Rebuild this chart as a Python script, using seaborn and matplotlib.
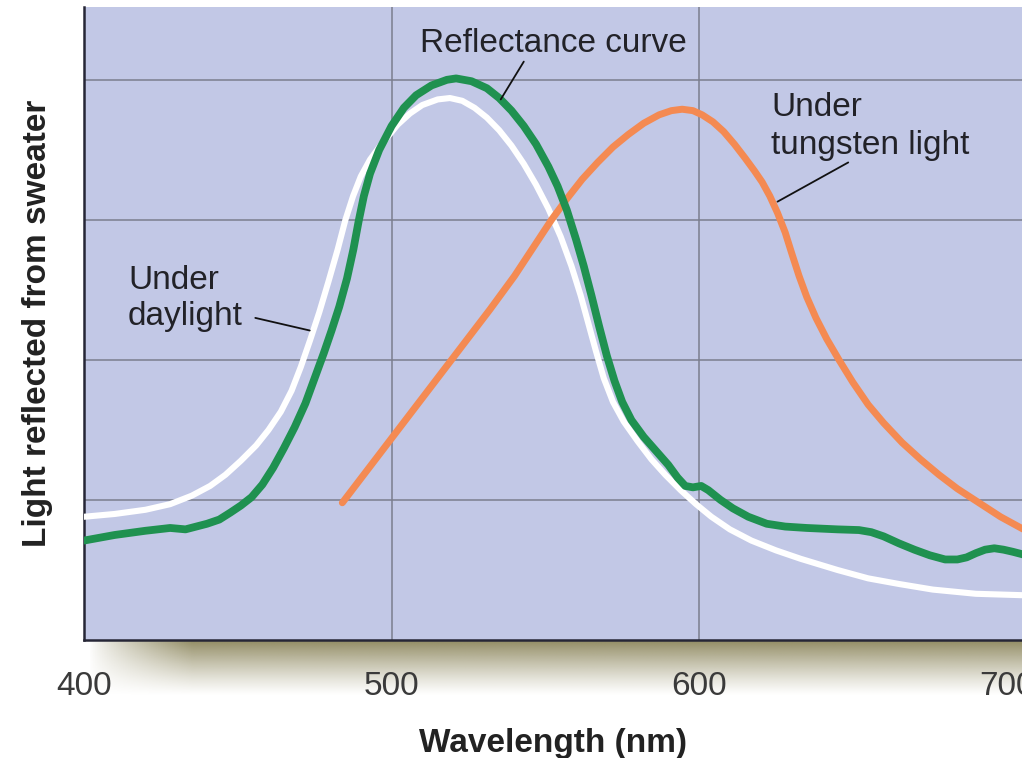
import numpy as np
import pandas as pd
import seaborn as sns
import matplotlib.pyplot as plt

# reflectance curve of the sweater (green)
wl_reflect = [400, 410, 420, 428, 433, 440, 444, 447.6, 451, 454.5, 458, 461.5, 465, 468.5,
              472, 475, 478, 480.5, 483, 485.5, 487.6, 489.3, 491, 493, 496, 500, 504, 508,
              513, 518, 521, 526, 531, 535, 539, 543, 547, 551, 554, 557, 560, 562.5, 565,
              567.5, 570, 572.5, 575, 578, 582, 586, 590, 593, 595.5, 598, 600.7, 603, 607,
              611, 616, 622, 628, 635, 645, 652, 656, 660, 665, 670, 675, 680, 684, 687,
              690, 693, 696, 699, 702, 705.5]
reflect = [0.71, 0.75, 0.78, 0.80, 0.79, 0.83, 0.86, 0.91, 0.96, 1.02, 1.11, 1.23, 1.37, 1.52,
           1.69, 1.87, 2.05, 2.21, 2.38, 2.58, 2.79, 2.99, 3.17, 3.33, 3.50, 3.67, 3.80, 3.89,
           3.96, 4.00, 4.01, 3.99, 3.94, 3.87, 3.78, 3.67, 3.54, 3.38, 3.24, 3.07, 2.86, 2.67, 2.46,
           2.24, 2.03, 1.85, 1.70, 1.57, 1.45, 1.35, 1.25, 1.16, 1.10, 1.09, 1.10, 1.07, 1.00,
           0.94, 0.88, 0.83, 0.81, 0.80, 0.79, 0.785, 0.77, 0.74, 0.69, 0.645, 0.605, 0.575, 0.575, 0.59,
           0.62, 0.645, 0.655, 0.645, 0.63, 0.61]

# light reflected under daylight (white)
wl_day = [400, 410, 420, 428, 435, 441, 446, 451, 456, 460, 464, 467.5, 470.5, 473.5,
          476.5, 479.5, 482.5, 485, 487.5, 490, 493, 496, 499, 502, 506, 510, 515, 519,
          523, 527, 531, 535, 539, 543, 547, 551, 555, 558.5, 561.5, 564, 566.5, 569, 572,
          575.5, 580, 584.5, 589, 594, 599, 604, 610, 617, 625, 633, 645, 655, 665, 676,
          690, 705]
day = [0.88, 0.90, 0.93, 0.97, 1.03, 1.10, 1.18, 1.28, 1.39, 1.50, 1.63, 1.78, 1.95, 2.14,
       2.34, 2.56, 2.79, 3.00, 3.17, 3.31, 3.43, 3.52, 3.60, 3.68, 3.76, 3.82, 3.86, 3.87,
       3.85, 3.80, 3.73, 3.64, 3.53, 3.40, 3.25, 3.08, 2.88, 2.67, 2.46, 2.26, 2.06, 1.87, 1.70,
       1.56, 1.42, 1.29, 1.18, 1.07, 0.97, 0.88, 0.79, 0.71, 0.64, 0.58, 0.50, 0.44, 0.40, 0.36,
       0.33, 0.32]

# light reflected under tungsten light (orange)
wl_tung = [484, 492, 500, 508, 516, 524, 532, 540, 546, 552, 557, 562, 567, 572, 577,
           582, 587, 591, 594.5, 598, 601, 604.5, 608, 611.5, 615, 618, 620.5, 623, 625.5,
           628, 630, 632.5, 635, 638, 641.5, 645.5, 650, 655, 660, 666, 672, 678, 684, 691,
           698, 705.5]
tung = [0.98, 1.21, 1.44, 1.67, 1.90, 2.13, 2.36, 2.60, 2.80, 3.00, 3.15, 3.29, 3.41, 3.52, 3.61,
        3.69, 3.75, 3.78, 3.79, 3.78, 3.75, 3.70, 3.63, 3.54, 3.44, 3.35, 3.27, 3.17, 3.05,
        2.91, 2.77, 2.60, 2.45, 2.30, 2.15, 2.00, 1.84, 1.68, 1.55, 1.41, 1.29, 1.18, 1.08, 0.98,
        0.88, 0.79]

x_ticks = [400, 500, 600, 700]
y_ticks = [1, 2, 3, 4]

sns.set_theme(style="white")
plt.rcParams['font.family'] = ['Liberation Sans', 'DejaVu Sans']

W, H = 1022, 758
fig = plt.figure(figsize=(W / 100, H / 100), dpi=100)

# soft olive shadow under the x axis
sax = fig.add_axes([88 / W, 62 / H, (W - 88) / W, 56 / H], zorder=-1)
ny, nx = 60, 400
fade_y = np.linspace(1, 0, ny) ** 1.2
fade_x = np.clip(np.linspace(0, 9, nx), 0, 1) ** 0.8
rgba = np.zeros((ny, nx, 4))
rgba[..., 0] = 146 / 255
rgba[..., 1] = 140 / 255
rgba[..., 2] = 100 / 255
rgba[..., 3] = fade_y[:, None] * fade_x[None, :]
sax.imshow(rgba, aspect='auto', extent=(0, 1, 0, 1))
sax.axis('off')

ax = fig.add_axes([84 / W, 118 / H, (W - 84) / W, (751 - 118) / H])
ax.set_facecolor('#c2c8e6')

df_day = pd.DataFrame({'wl': wl_day, 'val': day})
df_tung = pd.DataFrame({'wl': wl_tung, 'val': tung})
df_ref = pd.DataFrame({'wl': wl_reflect, 'val': reflect})

line_kw = dict(solid_capstyle='round', solid_joinstyle='round')
sns.lineplot(data=df_day, x='wl', y='val', color='white', lw=4.4, ax=ax, zorder=3, **line_kw)
sns.lineplot(data=df_tung, x='wl', y='val', color='#f48a52', lw=5.0, ax=ax, zorder=4, **line_kw)
sns.lineplot(data=df_ref, x='wl', y='val', color='#1f9150', lw=5.6, ax=ax, zorder=5, **line_kw)

ax.set_xlim(400, 705)
ax.set_ylim(0, 4.52)
ax.set_xticks(x_ticks)
ax.set_xticklabels([str(t) for t in x_ticks])
ax.set_yticks(y_ticks)
ax.grid(True, color='#7b7e8e', lw=1.1)
ax.set_axisbelow(True)

for s in ['top', 'right']:
    ax.spines[s].set_visible(False)
for s in ['left', 'bottom']:
    ax.spines[s].set_color('#262636')
    ax.spines[s].set_linewidth(1.8)

ax.tick_params(axis='x', direction='in', length=21, width=1.4, color='#262636',
               pad=22, labelsize=24, labelcolor='#3a3a3a')
ax.tick_params(axis='y', direction='in', length=16, width=1.4, color='#262636',
               labelleft=False)
xt = ax.xaxis.get_major_ticks()
xt[0].tick1line.set_visible(False)
xt[3].tick1line.set_visible(False)
xt[3].gridline.set_visible(False)
xt[0].gridline.set_visible(False)

ax.set_xlabel('Wavelength (nm)', fontsize=24, fontweight='bold', color='#222222', labelpad=19)
ax.set_ylabel('Light reflected from sweater', fontsize=24, fontweight='bold',
              color='#222222', labelpad=22)

# annotations
txt = dict(fontsize=24, color='#222228', ha='left', va='center')
ax.text(509.4, 4.26, 'Reflectance curve', **txt)
ax.text(623.5, 3.80, 'Under', **txt)
ax.text(623.5, 3.53, 'tungsten light', **txt)
ax.text(414.3, 2.57, 'Under', **txt)
ax.text(414.3, 2.31, 'daylight', **txt)

lead = dict(color='#111111', lw=1.3, zorder=6)
ax.plot([543, 535.5], [4.13, 3.86], **lead)
ax.plot([648.5, 625.5], [3.41, 3.13], **lead)
ax.plot([455.7, 473.4], [2.30, 2.21], **lead)

fig.savefig('out.png', dpi=100)
